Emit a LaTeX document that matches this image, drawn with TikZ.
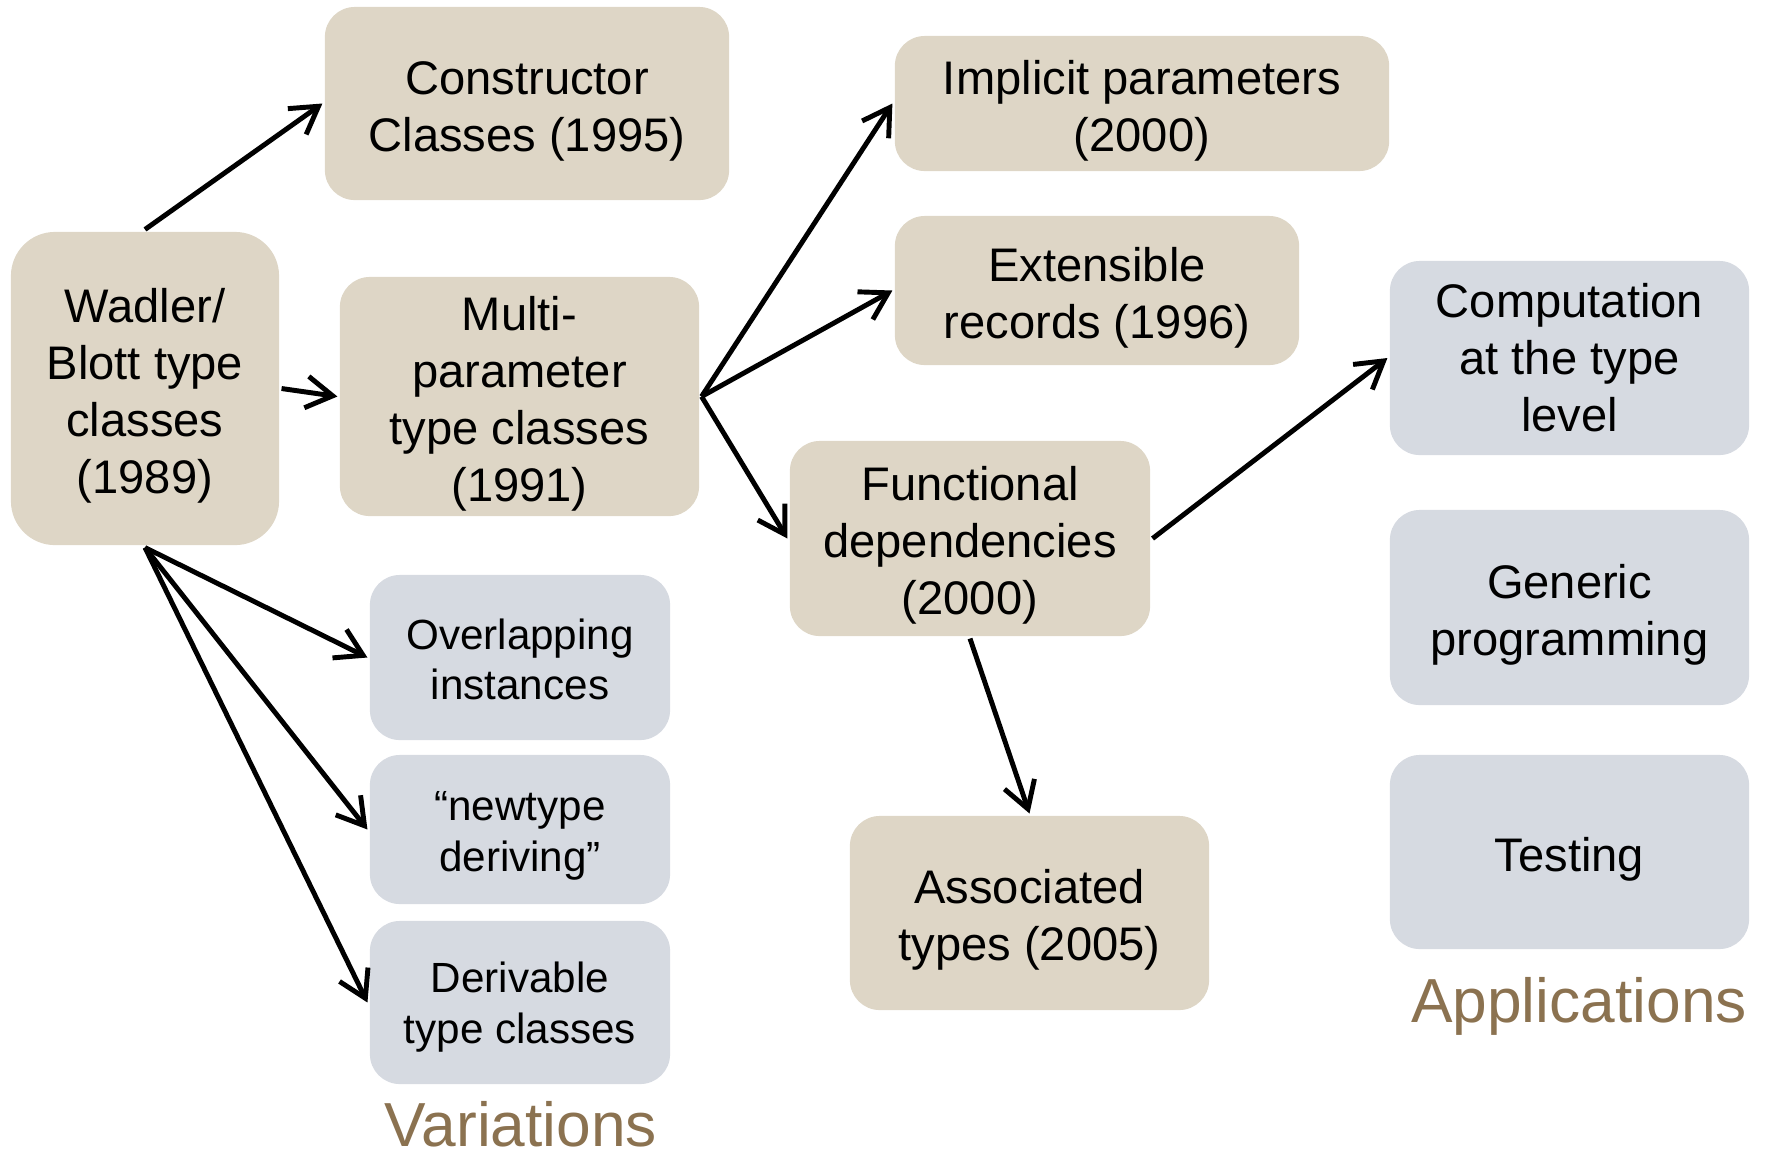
\documentclass[tikz,border=0pt]{standalone}
\usepackage{fontspec}
\setmainfont{Liberation Sans}
\usepackage{tikz}
\usetikzlibrary{arrows.meta}
\definecolor{tanfill}{HTML}{DED6C6}
\definecolor{slatefill}{HTML}{D6DAE1}
\definecolor{heading}{HTML}{8B7250}
\newcommand{\lift}{\rule{0pt}{13.6pt}}
\newcommand{\liftsmall}{\rule{0pt}{9.8pt}}

\begin{document}
\begin{tikzpicture}[x=0.01cm,y=-0.01cm,>={Straight Barb[length=7.5pt,width=9pt]},line width=1.4pt]
    \tikzset{tanbox/.style={fill=tanfill,rounded corners=8.5pt,align=center,inner sep=0pt,font=\fontsize{13.4}{16.2}\selectfont}}
    \tikzset{slatebox/.style={tanbox,fill=slatefill}}
    \tikzset{smalltext/.style={font=\fontsize{12}{14.4}\selectfont}}
    \tikzset{heading/.style={text=heading,anchor=base,font=\fontsize{17.7}{20}\selectfont}}
    \useasboundingbox (0,0) rectangle (1765,1156);
    % history of type classes
    \node[tanbox,rounded corners=12.5pt,minimum width=2.68cm,minimum height=3.13cm] (wb) at (145,388.5) {\lift Wadler/\\Blott type\\classes\\(1989)};
    \node[tanbox,minimum width=4.04cm,minimum height=1.93cm] (cc) at (527,103.5) {\lift Constructor\\Classes (1995)};
    \node[tanbox,minimum width=3.59cm,minimum height=2.39cm] (mp) at (519.5,396.5) {\lift Multi-\\parameter\\type classes\\(1991)};
    \node[tanbox,minimum width=4.94cm,minimum height=1.35cm] (ip) at (1142,103.5) {\lift Implicit parameters\\(2000)};
    \node[tanbox,minimum width=4.04cm,minimum height=1.49cm] (er) at (1097,290.5) {\lift Extensible\\records (1996)};
    \node[tanbox,minimum width=3.60cm,minimum height=1.95cm] (fd) at (970,538.5) {\lift Functional\\dependencies\\(2000)};
    \node[tanbox,minimum width=3.59cm,minimum height=1.94cm] (at) at (1029.5,913) {\lift Associated\\types (2005)};
    % variations
    \node[slatebox,smalltext,minimum width=3.00cm,minimum height=1.65cm] (ov) at (520,657.5) {\liftsmall Overlapping\\instances};
    \node[slatebox,smalltext,minimum width=3.00cm,minimum height=1.49cm] (nd) at (520,829.5) {\rule{0pt}{11.7pt}“newtype\\deriving”};
    \node[slatebox,smalltext,minimum width=3.00cm,minimum height=1.63cm] (dc) at (520,1002.5) {\rule{0pt}{11.4pt}Derivable\\type classes};
    \node[heading] (var) at (521,1146) {Variations};
    % applications
    \node[slatebox,minimum width=3.59cm,minimum height=1.94cm] (ct) at (1569.5,358) {Computation\\at the type\\level};
    \node[slatebox,minimum width=3.59cm,minimum height=1.95cm] (gp) at (1569.5,607.5) {\lift Generic\\programming};
    \node[slatebox,minimum width=3.59cm,minimum height=1.94cm] (te) at (1569.5,852) {\lift Testing};
    \node[heading] (app) at (1579,1022) {Applications};
    \path[->]
    (wb.north) edge (cc.west)
    (wb.east) edge (mp.west)
    (wb.south) edge (ov.west)
    (wb.south) edge (nd.west)
    (wb.south) edge (dc.west)
    (mp.east) edge (ip.west)
    (mp.east) edge (er.west)
    (mp.east) edge (fd.west)
    (fd.east) edge (ct.west)
    (fd.south) edge (at.north)
    ;
  \end{tikzpicture}
\end{document}
